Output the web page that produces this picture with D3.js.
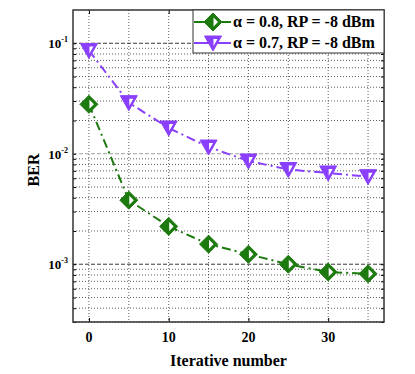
<!DOCTYPE html>
<html>
<head>
<meta charset="utf-8">
<script src="https://cdnjs.cloudflare.com/ajax/libs/d3/7.8.5/d3.min.js"></script>
<style>
  body { margin: 0; background: #fff; }
  text { font-family: "Liberation Serif", "Times New Roman", serif; font-weight: bold; }
</style>
</head>
<body>
<div id="chart"></div>
<script>
let iterations = [0, 5, 10, 15, 20, 25, 30, 35];
let berAlpha08 = [0.028, 0.0038, 0.0022, 0.00152, 0.00123, 0.001, 0.00085, 0.00082];
let berAlpha07 = [0.086, 0.029, 0.0171, 0.0115, 0.0086, 0.0072, 0.0067, 0.0062];
let seriesLabels = ["\u03b1 = 0.8, RP = -8 dBm", "\u03b1 = 0.7, RP = -8 dBm"];
let xTicks = [0, 10, 20, 30];
let yDecades = [1e-3, 1e-2, 1e-1];
let yTickLabels = ["-3", "-2", "-1"];

const GREEN = "#1c7a0e";
const PURPLE = "#8a3ffc";

function init() {
    const width = 415, height = 374;
    const margin = {left: 73, right: 31, top: 10, bottom: 52};
    const w = width - margin.left - margin.right;
    const h = height - margin.top - margin.bottom;

    const svg = d3.select("#chart").append("svg")
        .attr("width", width).attr("height", height);
    const g = svg.append("g")
        .attr("transform", "translate(" + margin.left + "," + margin.top + ")");

    const x = d3.scaleLinear().domain([-2, 37]).range([0, w]);
    const y = d3.scaleLog().domain([3e-4, 0.2]).range([h, 0]);

    // grid
    const vGrid = d3.range(0, 36, 5);
    g.selectAll(".vgrid").data(vGrid).enter().append("line")
        .attr("x1", d => x(d)).attr("x2", d => x(d))
        .attr("y1", 0).attr("y2", h)
        .attr("stroke", "#333").attr("stroke-width", 0.8)
        .attr("stroke-dasharray", "1,2");

    let minor = [];
    [1e-4, 1e-3, 1e-2, 1e-1].forEach(dec => {
        for (let k = 2; k <= 9; k++) {
            let v = dec * k;
            if (v > 3e-4 && v < 0.2) minor.push(v);
        }
    });
    g.selectAll(".hminor").data(minor).enter().append("line")
        .attr("x1", 0).attr("x2", w)
        .attr("y1", d => y(d)).attr("y2", d => y(d))
        .attr("stroke", "#333").attr("stroke-width", 0.8)
        .attr("stroke-dasharray", "1,2");
    g.selectAll(".hmajor").data(yDecades).enter().append("line")
        .attr("x1", 0).attr("x2", w)
        .attr("y1", d => y(d)).attr("y2", d => y(d))
        .attr("stroke", (d, i) => i == 1 ? "#999" : "#222").attr("stroke-width", 0.9)
        .attr("stroke-dasharray", "4,2");

    // axes (ticks inward)
    const allY = minor.concat(yDecades);
    g.append("g").attr("transform", "translate(0," + h + ")")
        .call(d3.axisBottom(x).tickValues(xTicks).tickSize(-4).tickFormat(""));
    g.append("g")
        .call(d3.axisTop(x).tickValues(xTicks).tickSize(-4).tickFormat(""));
    g.append("g")
        .call(d3.axisLeft(y).tickValues(allY).tickSize(-3).tickFormat(""));
    g.append("g").attr("transform", "translate(" + w + ",0)")
        .call(d3.axisRight(y).tickValues(allY).tickSize(-3).tickFormat(""));
    g.selectAll(".domain").remove();
    g.selectAll(".tick line").attr("stroke", "#000");

    g.append("rect").attr("width", w).attr("height", h)
        .attr("fill", "none").attr("stroke", "#333").attr("stroke-width", 1.5);

    // tick labels
    g.selectAll(".xl").data(xTicks).enter().append("text")
        .attr("x", d => x(d)).attr("y", h + 20)
        .attr("text-anchor", "middle").attr("font-size", 14)
        .text(d => d);
    const yl = g.selectAll(".yl").data(yDecades).enter().append("text")
        .attr("x", -5).attr("y", d => y(d) + 5)
        .attr("text-anchor", "end").attr("font-size", 13);
    yl.append("tspan").text("10");
    yl.append("tspan").attr("font-size", 8).attr("dy", -6).text((d, i) => yTickLabels[i]);

    svg.append("text").attr("x", margin.left + w / 2).attr("y", 366)
        .attr("text-anchor", "middle").attr("font-size", 16).text("Iterative number");
    svg.append("text")
        .attr("transform", "translate(39," + (margin.top + 160) + ") rotate(-90)")
        .attr("text-anchor", "middle").attr("font-size", 16).text("BER");

    const line = d3.line().x(d => x(d[0])).y(d => y(d[1]));
    const s1 = iterations.map((d, i) => [d, berAlpha08[i]]);
    const s2 = iterations.map((d, i) => [d, berAlpha07[i]]);

    g.append("path").datum(s2).attr("d", line).attr("fill", "none")
        .attr("stroke", PURPLE).attr("stroke-width", 2).attr("stroke-dasharray", "9,4,2,4");
    g.append("path").datum(s1).attr("d", line).attr("fill", "none")
        .attr("stroke", GREEN).attr("stroke-width", 2).attr("stroke-dasharray", "9,4,2,4");

    s2.forEach(d => drawTriangle(g, x(d[0]), y(d[1])));
    s1.forEach(d => drawDiamond(g, x(d[0]), y(d[1])));

    // legend
    const lx = 193 - margin.left, ly = 0, lw = w - lx, lh = 43;
    g.append("rect").attr("x", lx).attr("y", ly).attr("width", lw).attr("height", lh)
        .attr("fill", "#fff").attr("stroke", "#333").attr("stroke-width", 1);
    const rows = [{c: GREEN, m: drawDiamond}, {c: PURPLE, m: drawTriangle}];
    rows.forEach((r, i) => {
        const cy = ly + 12 + i * 21;
        g.append("line").attr("x1", lx + 1).attr("x2", lx + 38)
            .attr("y1", cy).attr("y2", cy).attr("stroke", r.c).attr("stroke-width", 2);
        r.m(g, lx + 20, cy);
        g.append("text").attr("x", lx + 40).attr("y", cy + 5)
            .attr("font-size", 16).text(seriesLabels[i]);
    });
}

function drawDiamond(g, cx, cy) {
    const r = 9, q = 4.5;
    g.append("path")
        .attr("d", "M" + cx + "," + (cy - r) + " L" + (cx + r) + "," + cy + " L" + cx + "," + (cy + r) + " L" + (cx - r) + "," + cy + " Z")
        .attr("fill", GREEN).attr("stroke", GREEN).attr("stroke-width", 1);
    g.append("path")
        .attr("d", "M" + (cx + 0.5) + "," + (cy - q) + " L" + (cx + q + 0.5) + "," + cy + " L" + (cx + 0.5) + "," + (cy + q) + " Z")
        .attr("fill", "#fff");
}

function drawTriangle(g, cx, cy) {
    const r = 8.5;
    g.append("path")
        .attr("d", "M" + (cx - r) + "," + (cy - 7) + " L" + (cx + r) + "," + (cy - 7) + " L" + cx + "," + (cy + 8) + " Z")
        .attr("fill", PURPLE).attr("stroke", PURPLE).attr("stroke-width", 1);
    g.append("path")
        .attr("d", "M" + (cx + 0.5) + "," + (cy - 4) + " L" + (cx + 4.5) + "," + (cy - 4) + " L" + (cx + 0.5) + "," + (cy + 3) + " Z")
        .attr("fill", "#fff");
}

window.onload = function () {
    init();
};
</script>
</body>
</html>
